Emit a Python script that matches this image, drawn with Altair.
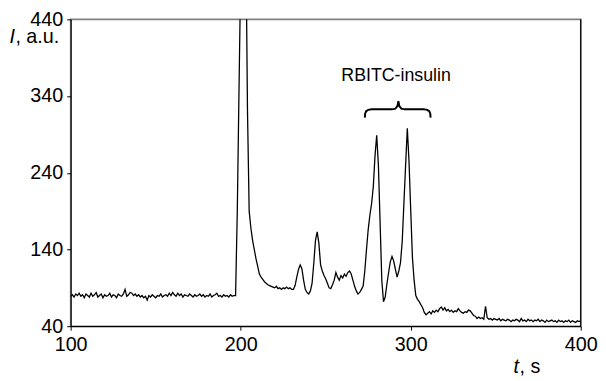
import altair as alt
import pandas as pd

# ---- data (1 s sampling) ----
time_s = list(range(100, 401))
intensity = [
    79, 81, 78, 82, 80, 83, 79, 81, 77, 82,      # 100
    80, 78, 83, 79, 81, 84, 78, 80, 82, 77,      # 110
    81, 79, 80, 83, 78, 81, 80, 77, 82, 80,      # 120
    79, 82, 88, 79, 81, 84, 83, 80, 82, 79,      # 130
    81, 78, 80, 77, 79, 74, 80, 78, 81, 79,      # 140
    77, 80, 79, 82, 78, 80, 81, 79, 83, 80,      # 150
    84, 81, 79, 83, 80, 82, 78, 81, 80, 79,      # 160
    82, 80, 78, 81, 79, 80, 82, 79, 81, 78,      # 170
    80, 79, 82, 78, 80, 81, 83, 79, 80, 78,      # 180
    81, 79, 80, 78, 81, 79, 80, 80, 189, 345,    # 190
    500, 560, 575, 557, 322, 190, 168, 152, 140, 128,  # 200
    118, 108, 104, 101, 98, 96, 94, 93, 92, 91,  # 210
    90, 92, 89, 90, 88, 90, 89, 91, 89, 90,      # 220
    88, 88, 93, 104, 114, 120, 115, 100, 88, 84, # 230
    82, 86, 96, 122, 152, 163, 148, 120, 112, 106,  # 240
    102, 96, 90, 89, 94, 100, 110, 104, 100, 106,   # 250
    103, 108, 105, 110, 112, 108, 100, 92, 86, 82,  # 260
    84, 88, 92, 112, 140, 166, 185, 200, 222, 262,  # 270
    289, 250, 175, 100, 72, 78, 95, 110, 124, 131,  # 280
    125, 114, 104, 112, 123, 150, 200, 250, 298, 255,  # 290
    192, 130, 100, 80, 75, 72, 68, 64, 58, 55,   # 300
    57, 59, 56, 60, 58, 61, 59, 63, 65, 61,      # 310
    64, 60, 62, 59, 61, 58, 60, 59, 63, 60,      # 320
    58, 57, 59, 58, 61, 60, 57, 54, 53, 50,      # 330
    52, 50, 51, 49, 66, 51, 49, 50, 48, 50,      # 340
    49, 48, 50, 47, 49, 48, 47, 49, 48, 46,      # 350
    48, 47, 49, 48, 46, 50, 47, 48, 46, 49,      # 360
    47, 48, 46, 48, 47, 49, 46, 48, 47, 45,      # 370
    48, 46, 47, 48, 46, 47, 45, 48, 46, 47,      # 380
    45, 47, 46, 48, 45, 47, 46, 45, 47, 46,      # 390
    47,                                          # 400
]

x_ticks = [100, 200, 300, 400]
y_ticks = [40, 140, 240, 340, 440]

label_text = ["RBITC-insulin"]
label_t = [291.4]
label_i = [360]

brace_t = [273.0, 273.2, 273.8, 275.0, 277.0, 289.0, 291.0, 292.2, 292.75,
           293.3, 294.5, 296.5, 307.7, 309.7, 310.9, 311.5, 311.7]
brace_i = [312, 317, 320.3, 322.0, 322.7, 322.7, 323.6, 327, 333.4,
           327, 323.6, 322.7, 322.7, 322.0, 320.3, 317, 312]

FONT = "Liberation Sans"

df = pd.DataFrame({"t": time_s, "I": intensity})
xs = alt.Scale(domain=[100, 400], nice=False, zero=False)
ys = alt.Scale(domain=[40, 440], nice=False, zero=False)

line = alt.Chart(df).mark_line(color="black", strokeWidth=1.3, clip=True).encode(
    x=alt.X("t:Q", scale=xs,
            axis=alt.Axis(values=x_ticks, title=None, grid=False, format="d",
                          labelFlush=False, labelOverlap=False, labelPadding=5)),
    y=alt.Y("I:Q", scale=ys,
            axis=alt.Axis(values=y_ticks, title=None, grid=False, format="d",
                          labelFlush=False, labelOverlap=False, labelPadding=4)),
)

right_border = alt.Chart(pd.DataFrame({"t": [400]})).mark_rule(
    color="black", strokeWidth=1.2).encode(x=alt.X("t:Q", scale=xs))

brace = alt.Chart(pd.DataFrame({"t": brace_t, "I": brace_i,
                                "o": list(range(len(brace_t)))})).mark_line(
    color="black", strokeWidth=2).encode(
    x=alt.X("t:Q", scale=xs), y=alt.Y("I:Q", scale=ys), order="o:Q")

label = alt.Chart(pd.DataFrame({"t": label_t, "I": label_i, "s": label_text})).mark_text(
    font=FONT, fontSize=18, color="black", align="center", baseline="alphabetic").encode(
    x=alt.X("t:Q", scale=xs), y=alt.Y("I:Q", scale=ys), text="s:N")

def txt(s, x, y, align, italic=False):
    kw = dict(font=FONT, fontSize=20, color="black", align=align, baseline="alphabetic")
    if italic:
        kw["fontStyle"] = "italic"
    return alt.Chart(pd.DataFrame({"s": [s]})).mark_text(**kw).encode(
        text="s:N", x=alt.value(x), y=alt.value(y))

y_title_i = txt("I", -56.5, 24, "right", italic=True)
y_title_rest = txt(", a.u.", -56.0, 24, "left")
x_title_t = txt("t", 454.5, 358, "right", italic=True)
x_title_rest = txt(", s", 455.0, 358, "left")

chart = alt.layer(line, right_border, brace, label,
                  y_title_i, y_title_rest, x_title_t, x_title_rest).properties(
    width=517, height=311,
    autosize=alt.AutoSizeParams(type="none"),
    padding={"left": 63.5, "top": 9, "right": 17.5, "bottom": 53},
).configure_view(
    stroke="#808080", strokeWidth=1.6
).configure_axis(
    domainColor="black", domainWidth=1.2, tickColor="black", tickSize=4,
    tickWidth=1, labelFont=FONT, labelFontSize=20, labelColor="black",
)

chart.save("out.html", embed_options={"renderer": "svg", "actions": False})
